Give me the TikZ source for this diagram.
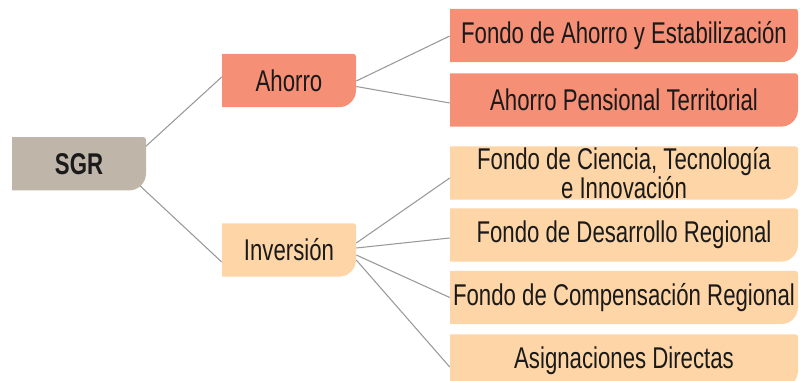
\documentclass[tikz,border=0pt]{standalone}
\usepackage{fontspec}
\setmainfont{Liberation Sans}[FakeStretch=0.74]
\usetikzlibrary{calc,backgrounds}
\definecolor{sgrc}{HTML}{BFB5A8}
\definecolor{ahoc}{HTML}{F58F75}
\definecolor{invc}{HTML}{FDD5A6}
\definecolor{linec}{HTML}{999999}
\definecolor{textc}{HTML}{1A1A1A}
\begin{document}
\begin{tikzpicture}[x=0.75pt,y=-0.75pt,
  cornerbox/.style={inner sep=0pt, text=textc, align=center,
    font=\fontsize{22.5pt}{18pt}\selectfont,
    path picture={\fill[#1] (path picture bounding box.north west)
      -- ([xshift=-2pt]path picture bounding box.north east)
      arc[start angle=90,end angle=0,radius=2pt]
      -- ([yshift=12.75pt]path picture bounding box.south east)
      arc[start angle=0,end angle=-90,radius=12.75pt]
      -- (path picture bounding box.south west) -- cycle;}},
  smallbox/.style={cornerbox=#1, minimum width=100.5pt, minimum height=40pt},
  bigbox/.style={cornerbox=#1, minimum width=261pt, minimum height=40pt},
  link/.style={draw=linec, line width=0.8pt}]
\useasboundingbox (0,0) rectangle (800,381);

\node[smallbox=sgrc, font=\fontsize{22.5pt}{18pt}\selectfont\bfseries] (sgr) at (79,163.75) {SGR};
\node[smallbox=ahoc] (aho) at (289,80.5) {Ahorro};
\node[smallbox=invc] (inv) at (289,250) {Inversión};

\node[bigbox=ahoc] (fae) at (624,35.5) {Fondo de Ahorro y Estabilización};
\node[bigbox=ahoc] (apt) at (624,100) {Ahorro Pensional Territorial};
\node[bigbox=invc] (fcti) at (624,173) {Fondo de Ciencia, Tecnología\\e Innovación};
\node[bigbox=invc] (fdr) at (624,235) {Fondo de Desarrollo Regional};
\node[bigbox=invc] (fcr) at (624,297.5) {Fondo de Compensación Regional};
\node[bigbox=invc] (ad) at (624,361) {Asignaciones Directas};

\begin{scope}[on background layer]
\draw[link] ($(sgr.north east)+(-1,10)$) -- ($(aho.west)+(0,-3.5)$);
\draw[link] ($(sgr.south east)+(-8,-6.5)$) -- ($(inv.west)+(0,12)$);
\draw[link] ($(aho.east)+(0,0.5)$) -- ($(fae.west)+(0,0.5)$);
\draw[link] ($(aho.east)+(0,6)$) -- ($(apt.west)+(0,3)$);
\draw[link] ($(inv.east)+(0,-7)$) -- ($(fcti.west)+(0,5)$);
\draw[link] ($(inv.east)+(0,-2)$) -- ($(fdr.west)+(0,3)$);
\draw[link] ($(inv.east)+(0,5)$) -- ($(fcr.west)+(0,0)$);
\draw[link] ($(inv.east)+(0,10)$) -- ($(ad.west)+(0,6)$);
\end{scope}
\end{tikzpicture}
\end{document}
